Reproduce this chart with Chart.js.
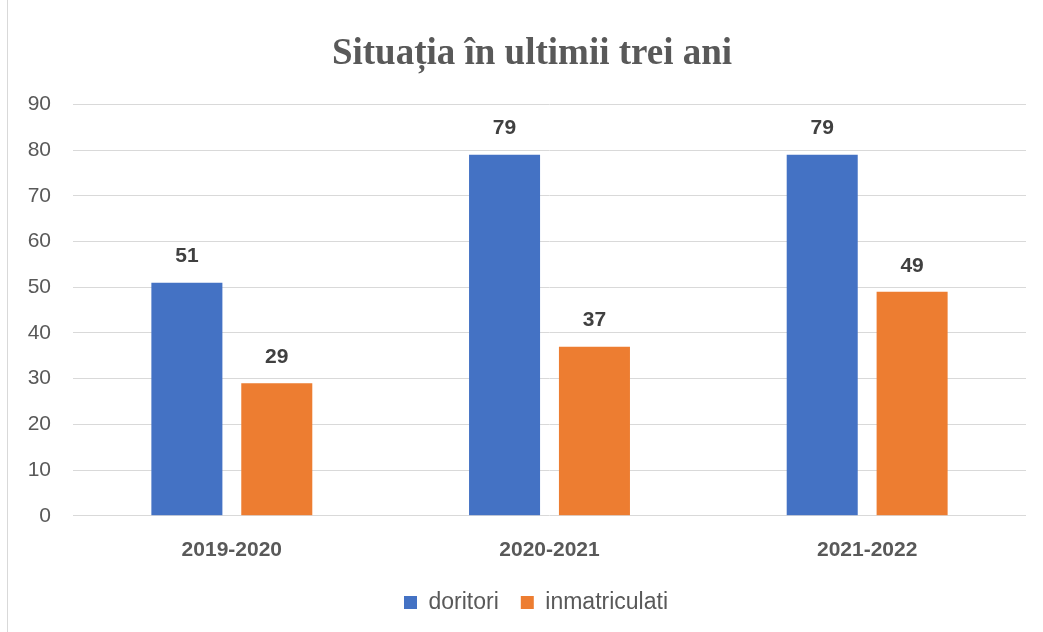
<!DOCTYPE html>
<html>
<head>
<meta charset="utf-8">
<script src="https://cdn.jsdelivr.net/npm/chart.js@4"></script>
<style>
  body { margin: 0; background: #fff; }
  #cadru {
    position: absolute; left: 7px; top: 0;
    width: 1036px; height: 632px;
    border-left: 1px solid #d9d9d9;
    box-sizing: border-box;
  }
</style>
</head>
<body>
<div id="cadru"><canvas id="grafic"></canvas></div>
<script>
const ani = ["2019-2020", "2020-2021", "2021-2022"];
const doritori = [51, 79, 79];
const inmatriculati = [29, 37, 49];
const ticks = [0, 10, 20, 30, 40, 50, 60, 70, 80, 90];

const gri = "#595959";
const fontText = "'Liberation Sans', Arial, sans-serif";

// etichete cu valori deasupra barelor
const eticheteValori = {
  id: "eticheteValori",
  afterDatasetsDraw(chart) {
    const ctx = chart.ctx;
    ctx.save();
    ctx.font = "bold 21px " + fontText;
    ctx.fillStyle = "#404040";
    ctx.textAlign = "center";
    ctx.textBaseline = "middle";
    chart.data.datasets.forEach((ds, i) => {
      chart.getDatasetMeta(i).data.forEach((bar, j) => {
        ctx.fillText(ds.data[j], bar.x, bar.y - 26);
      });
    });
    ctx.restore();
  },
};

// titlul si legenda sunt putin mutate spre dreapta in original
const deplasare = {
  id: "deplasare",
  afterLayout(chart) {
    if (chart.titleBlock) {
      chart.titleBlock.left += 15;
      chart.titleBlock.right += 15;
    }
    if (chart.legend) {
      chart.legend.left += 19;
      chart.legend.right += 19;
    }
  },
};

new Chart(document.getElementById("grafic"), {
  type: "bar",
  data: {
    labels: ani,
    datasets: [
      {
        label: "doritori",
        data: doritori,
        backgroundColor: "#4472C4",
      },
      {
        label: "inmatriculati",
        data: inmatriculati,
        backgroundColor: "#ED7D31",
      },
    ],
  },
  options: {
    responsive: true,
    maintainAspectRatio: false,
    animation: false,
    categoryPercentage: 0.566,
    barPercentage: 0.79,
    layout: { padding: { left: 0, right: 17, top: 0, bottom: 8 } },
    plugins: {
      title: {
        display: true,
        text: "Situația în ultimii trei ani",
        color: gri,
        font: { family: "'Liberation Serif', 'Times New Roman', serif", size: 37, weight: "bold" },
        padding: { top: 32, bottom: 28 },
      },
      legend: {
        position: "bottom",
        labels: {
          color: gri,
          font: { family: fontText, size: 23 },
          boxWidth: 13,
          boxHeight: 13,
          padding: 22,
        },
      },
      tooltip: { enabled: false },
    },
    scales: {
      x: {
        grid: { display: false },
        border: { display: false },
        afterFit: (s) => { s.height -= 8; },
        ticks: {
          color: gri,
          padding: 14,
          font: { family: fontText, size: 21, weight: "bold" },
        },
      },
      y: {
        min: 0,
        max: 90,
        afterFit: (s) => { s.width = 65; },
        afterBuildTicks: (s) => { s.ticks = ticks.map((v) => ({ value: v })); },
        grid: { color: "#d9d9d9", lineWidth: 1, drawTicks: false },
        border: { display: false },
        ticks: {
          color: gri,
          padding: 22,
          font: { family: fontText, size: 21 },
        },
      },
    },
  },
  plugins: [eticheteValori, deplasare],
});
</script>
</body>
</html>
